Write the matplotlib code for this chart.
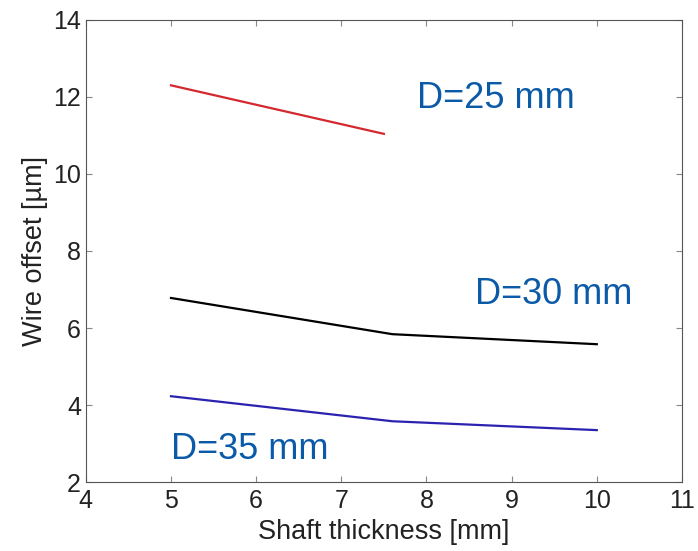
import matplotlib
matplotlib.use("Agg")
import matplotlib.pyplot as plt

# shaft thickness [mm]
x_25 = [5, 7.5]
x_30 = [5, 7.6, 10]
x_35 = [5, 7.6, 10]

# wire offset [um]
y_25 = [12.3, 11.04]
y_30 = [6.78, 5.84, 5.58]
y_35 = [4.23, 3.58, 3.35]

labels = ["D=25 mm", "D=30 mm", "D=35 mm"]

plt.rcParams['font.family'] = ['Liberation Sans', 'DejaVu Sans']

fig = plt.figure(figsize=(6.98, 5.51), dpi=100)
ax = fig.add_axes([0.123, 0.125, 0.854, 0.839])

ax.plot(x_25, y_25, color='#d2282e', lw=1.6)
ax.plot(x_30, y_30, color='black', lw=1.6)
ax.plot(x_35, y_35, color='#2b23b0', lw=1.6)

# curve labels (baseline placed)
txt_color = '#0b5aa8'
ax.text(8.81, 11.71, labels[0], color=txt_color, fontsize=26, ha='center', va='baseline')
ax.text(9.49, 6.62, labels[1], color=txt_color, fontsize=26, ha='center', va='baseline')
ax.text(5.93, 2.59, labels[2], color=txt_color, fontsize=26, ha='center', va='baseline')

ax.set_xlim(4, 11)
ax.set_ylim(2, 14)
ax.set_xticks(range(4, 12))
ax.set_yticks(range(2, 15, 2))
ax.tick_params(direction='in', top=True, right=True, labelsize=18,
               color='#888888', length=4, labelcolor='#222222')
ax.tick_params(axis='x', pad=5)
for s in ax.spines.values():
    s.set_color('#555555')
ax.set_xlabel("Shaft thickness [mm]", fontsize=19.5, color='#222222', labelpad=4)
ax.set_ylabel("Wire offset [\u00b5m]", fontsize=19.5, color='#222222', labelpad=4)

fig.savefig("out.png", dpi=100)
